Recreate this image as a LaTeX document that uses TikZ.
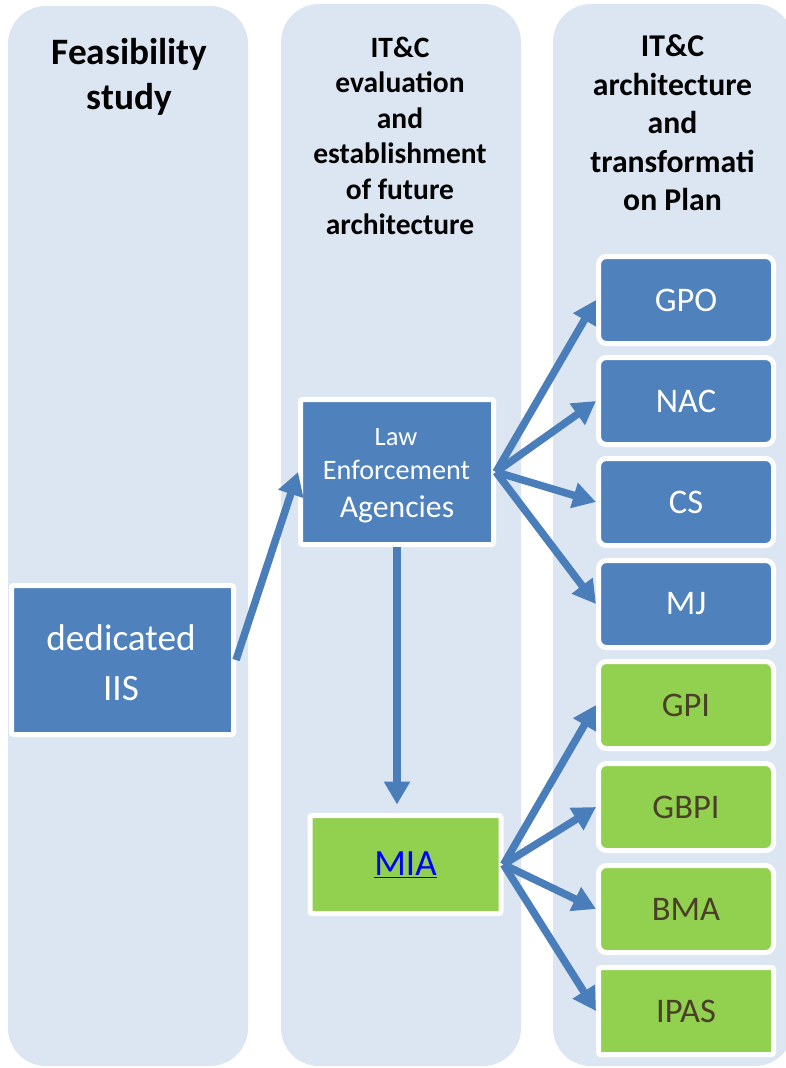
\documentclass[tikz,border=0pt]{standalone}
\usepackage{fontspec}
\setmainfont{Carlito}
\usetikzlibrary{arrows.meta}
\definecolor{colbg}{HTML}{DCE6F2}
\definecolor{bluebox}{HTML}{4F81BD}
\definecolor{greenbox}{HTML}{92D050}
\definecolor{arrowc}{HTML}{4A7EBB}
\definecolor{greentext}{HTML}{4A3F28}
\tikzset{
  x=1pt, y=-1pt,
  column/.style={fill=colbg, rounded corners=38pt},
  header/.style={align=center, font=\bfseries, text=black, inner sep=0pt},
  bluebox/.style={fill=bluebox, draw=white, line width=5pt, text=white, align=center, inner sep=0pt, rounded corners=2pt},
  rbox/.style={fill=bluebox, draw=white, line width=5pt, text=white, minimum width=175pt, minimum height=87pt, inner sep=0pt, rounded corners=8pt, font=\fontsize{34.5}{40}\selectfont},
  gbox/.style={rbox, fill=greenbox, text=greentext},
  conn/.style={draw=arrowc, line width=7.5pt, -{Triangle[length=23pt,width=25pt]}},
  boxtext/.style={text=white, inner sep=0pt, anchor=base},
}
\begin{document}
\begin{tikzpicture}
\useasboundingbox (0,0) rectangle (786,1068);
% columns
\fill[column] (8,6) rectangle (248,1066);
\fill[column] (281,4) rectangle (521,1066);
\fill[column] (553,4) rectangle (793,1066);
% headers
\node[header, font=\bfseries\fontsize{37.3}{45}\selectfont] (h1) at (129.5,77) {Feasibility\\study};
\node[header, font=\bfseries\fontsize{29.5}{35.5}\selectfont] (h2) at (400,136) {IT\&C\\evaluation\\and\\establishment\\of future\\architecture};
\node[header, font=\bfseries\fontsize{31.7}{38.5}\selectfont] (h3) at (672.5,123) {IT\&C\\architecture\\and\\transformati\\on Plan};
% left boxes
\node[bluebox, minimum width=222pt, minimum height=149pt] (iis) at (122.5,660) {};
\node[bluebox, minimum width=193pt, minimum height=145pt] (lea) at (397,472) {};
\node[bluebox, fill=greenbox, minimum width=191pt, minimum height=98pt, font=\fontsize{37}{44}\selectfont, text=blue] (mia) at (405.5,864.5) {\underline{MIA}};
% box texts
\node[boxtext, font=\fontsize{37.2}{44}\selectfont] (iis1) at (121,650) {dedicated};
\node[boxtext, font=\fontsize{37.2}{44}\selectfont] (iis2) at (121,700) {IIS};
\node[boxtext, font=\fontsize{26.5}{30}\selectfont] (lea1) at (396,445) {Law};
\node[boxtext, font=\fontsize{28.2}{32}\selectfont] (lea2) at (396.5,479) {Enforcement};
\node[boxtext, font=\fontsize{31.7}{36}\selectfont] (lea3) at (397,517) {Agencies};
% right boxes
\node[rbox] (gpo) at (686,300) {GPO};
\node[rbox] (nac) at (686,401) {NAC};
\node[rbox] (cs) at (686,502) {CS};
\node[rbox] (mj) at (686,604) {MJ};
\node[gbox] (gpi) at (686,705) {GPI};
\node[gbox] (gbpi) at (686,807) {GBPI};
\node[gbox] (bma) at (686,909) {BMA};
\node[gbox, rounded corners=2pt] (ipas) at (686,1011) {IPAS};
% connectors
\draw[conn] (iis.east) -- (lea.west);
\draw[conn, shorten >=8.5pt] (lea.south) -- (lea.south |- mia.north);
\foreach \t in {gpo,nac,cs,mj} \draw[conn] (lea.east) -- (\t.west);
\foreach \t in {gpi,gbpi,bma,ipas} \draw[conn] (mia.east) -- (\t.west);
\end{tikzpicture}
\end{document}
